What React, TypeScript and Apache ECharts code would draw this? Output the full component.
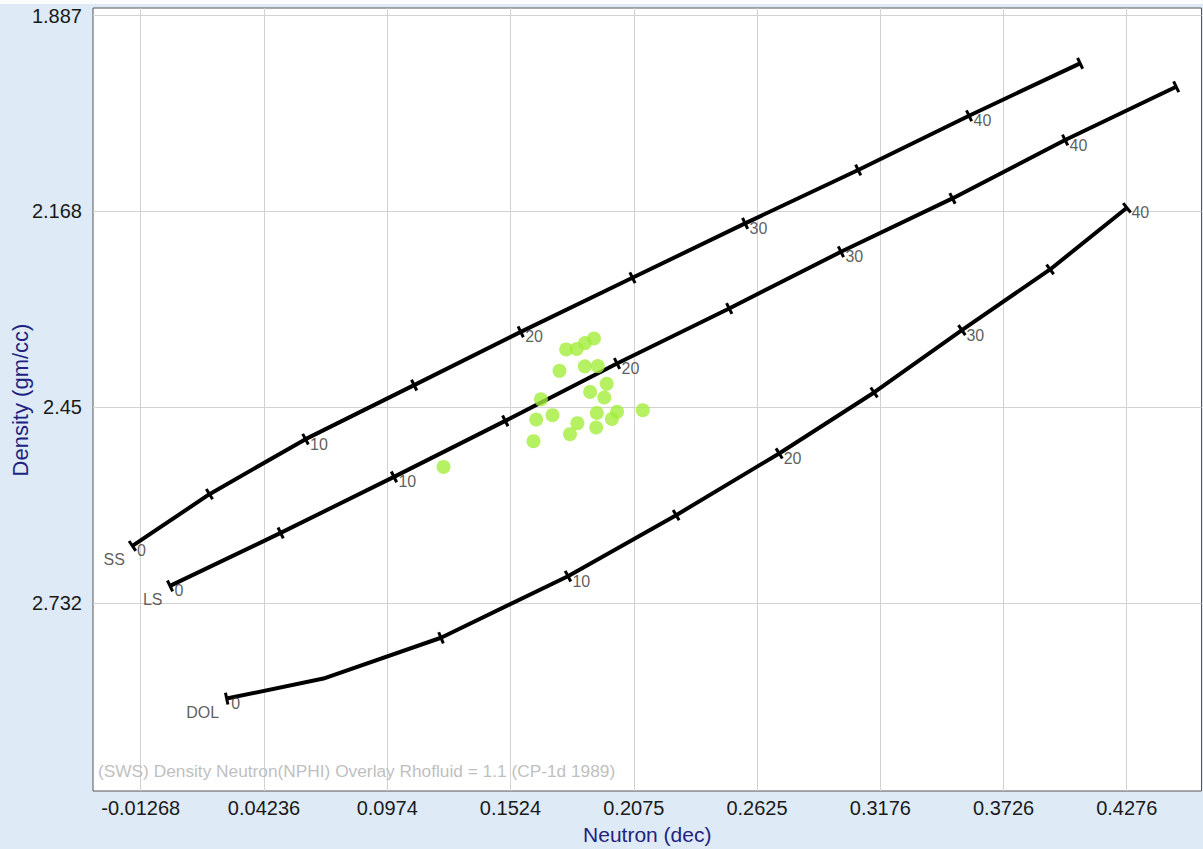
import React, { useEffect, useRef } from 'react';
import * as echarts from 'echarts';

// Axis ticks
const xTicks = [-0.01268, 0.04236, 0.0974, 0.1524, 0.2075, 0.2625, 0.3176, 0.3726, 0.4276];
const xTickLabels = ['-0.01268', '0.04236', '0.0974', '0.1524', '0.2075', '0.2625', '0.3176', '0.3726', '0.4276'];
const yTicks = [1.887, 2.168, 2.45, 2.732];
const yTickLabels = ['1.887', '2.168', '2.45', '2.732'];

// Sandstone line (porosity p.u., NPHI, RHOB)
const ssPhi = [0, 5, 10, 15, 20, 25, 30, 35, 40, 45];
const ssNphi = [-0.0164, 0.018, 0.0609, 0.1094, 0.157, 0.2069, 0.2572, 0.3077, 0.3572, 0.4068];
const ssRhob = [2.65, 2.5755, 2.4963, 2.4186, 2.3419, 2.2641, 2.1858, 2.1091, 2.0309, 1.9555];

// Limestone line
const lsPhi = [0, 5, 10, 15, 20, 25, 30, 35, 40, 45];
const lsNphi = [0.0004, 0.0498, 0.1004, 0.1501, 0.2, 0.2501, 0.3, 0.3498, 0.4001, 0.4497];
const lsRhob = [2.7075, 2.6312, 2.5506, 2.47, 2.3874, 2.3082, 2.2267, 2.1499, 2.0659, 1.9892];

// Dolomite line
const dolPhi = [0, 2, 5, 10, 15, 20, 25, 30, 35, 40];
const dolNphi = [0.0257, 0.0689, 0.1214, 0.1781, 0.2264, 0.2724, 0.3148, 0.354, 0.3934, 0.4277];
const dolRhob = [2.8696, 2.8408, 2.7821, 2.6935, 2.6057, 2.5169, 2.4291, 2.3394, 2.2521, 2.1634];

// Sample points
const sampleNphi = [0.1225, 0.1627, 0.1639, 0.1712, 0.166, 0.1743, 0.1773, 0.182, 0.1857, 0.1897, 0.1856,
  0.1914, 0.188, 0.1954, 0.1943, 0.191, 0.2, 0.1977, 0.1907, 0.1823, 0.179, 0.2115];
const sampleRhob = [2.5362, 2.4992, 2.468, 2.4618, 2.439, 2.398, 2.3672, 2.3665, 2.3581, 2.3514, 2.3915,
  2.3912, 2.4283, 2.4167, 2.4363, 2.4585, 2.457, 2.4673, 2.4795, 2.4733, 2.4891, 2.4546];

const labeledPhi = [0, 10, 20, 30, 40];

const curves = [
  { name: 'SS', phi: ssPhi, nphi: ssNphi, rhob: ssRhob },
  { name: 'LS', phi: lsPhi, nphi: lsNphi, rhob: lsRhob },
  { name: 'DOL', phi: dolPhi, nphi: dolNphi, rhob: dolRhob },
];

const FONT = 'Liberation Sans, Arial, sans-serif';

function tickData(nphi: number[], rhob: number[], phi: number[]) {
  const out: number[][] = [];
  const n = phi.length;
  for (let i = 0; i < n; i++) {
    if (phi[i] % 5 !== 0) continue;
    const a = Math.max(0, i - 1);
    const b = Math.min(n - 1, i + 1);
    out.push([nphi[i], rhob[i], nphi[a], rhob[a], nphi[b], rhob[b]]);
  }
  return out;
}

function renderTick(_params: any, api: any) {
  const p = api.coord([api.value(0), api.value(1)]);
  const a = api.coord([api.value(2), api.value(3)]);
  const b = api.coord([api.value(4), api.value(5)]);
  let dx = b[0] - a[0];
  let dy = b[1] - a[1];
  const len = Math.hypot(dx, dy) || 1;
  dx /= len;
  dy /= len;
  const L = 6;
  return {
    type: 'line',
    shape: { x1: p[0] - dy * L, y1: p[1] + dx * L, x2: p[0] + dy * L, y2: p[1] - dx * L },
    style: { stroke: '#000', lineWidth: 3 },
  };
}

export default function App() {
  const ref = useRef<HTMLDivElement>(null);

  useEffect(() => {
    if (!ref.current) return;
    const chart = echarts.init(ref.current, undefined, { renderer: 'svg' });

    const series: any[] = [];
    curves.forEach((c) => {
      series.push({
        type: 'line',
        name: c.name,
        data: c.nphi.map((x, i) => [x, c.rhob[i]]),
        showSymbol: false,
        symbol: 'none',
        lineStyle: { color: '#000', width: 4 },
        z: 2,
        silent: true,
      });
      series.push({
        type: 'custom',
        name: c.name + '-ticks',
        dimensions: ['x', 'y', 'ax', 'ay', 'bx', 'by'],
        encode: { x: 0, y: 1 },
        data: tickData(c.nphi, c.rhob, c.phi),
        renderItem: renderTick,
        z: 3,
        silent: true,
      });
      series.push({
        type: 'scatter',
        name: c.name + '-labels',
        symbolSize: 1,
        itemStyle: { color: 'rgba(0,0,0,0)' },
        data: c.phi
          .map((p, i) => ({ name: String(p), value: [c.nphi[i], c.rhob[i]], p }))
          .filter((d) => labeledPhi.includes(d.p))
          .map((d) => ({ name: d.name, value: d.value })),
        label: {
          show: true,
          formatter: '{b}',
          position: 'right',
          distance: 4,
          offset: [0, 5],
          color: '#333',
          fontSize: 16,
          fontFamily: FONT,
        },
        z: 4,
        silent: true,
      });
      series.push({
        type: 'scatter',
        name: c.name + '-name',
        symbolSize: 1,
        itemStyle: { color: 'rgba(0,0,0,0)' },
        data: [{ name: c.name, value: [c.nphi[0], c.rhob[0]] }],
        label: {
          show: true,
          formatter: '{b}',
          position: 'left',
          distance: 7,
          offset: [0, 14],
          color: '#333',
          fontSize: 16,
          fontFamily: FONT,
        },
        z: 4,
        silent: true,
      });
    });

    series.push({
      type: 'scatter',
      name: 'Samples',
      data: sampleNphi.map((x, i) => [x, sampleRhob[i]]),
      symbol: 'circle',
      symbolSize: 14,
      itemStyle: { color: '#A2EE3B' },
      z: 5,
      silent: true,
    });

    const labelFor = (vals: number[], labels: string[]) => (v: number) => {
      let best = 0;
      for (let i = 1; i < vals.length; i++) {
        if (Math.abs(vals[i] - v) < Math.abs(vals[best] - v)) best = i;
      }
      return labels[best];
    };

    chart.setOption({
      animation: false,
      backgroundColor: '#DEEBF7',
      textStyle: { fontFamily: FONT },
      grid: {
        left: 93,
        top: 8,
        right: 1.5,
        bottom: 58,
        show: true,
        backgroundColor: '#fff',
        borderColor: '#555',
        borderWidth: 1,
        containLabel: false,
        outerBoundsMode: 'none',
      },
      xAxis: {
        type: 'value',
        min: -0.034,
        max: 0.461,
        name: 'Neutron (dec)',
        nameLocation: 'middle',
        nameGap: 33,
        nameTextStyle: { color: '#22237F', fontSize: 21, fontFamily: FONT },
        axisLine: { show: false },
        axisTick: { show: false, customValues: xTicks },
        axisLabel: {
          customValues: xTicks,
          formatter: labelFor(xTicks, xTickLabels),
          color: '#1a1a1a',
          fontSize: 20,
          margin: 7,
          fontFamily: FONT,
        },
        splitLine: { show: true, lineStyle: { color: '#d2d2d2', width: 1 } },
      },
      yAxis: {
        type: 'value',
        inverse: true,
        min: 1.8759,
        max: 3.0026,
        axisLine: { show: false },
        axisTick: { show: false, customValues: yTicks },
        axisLabel: {
          customValues: yTicks,
          formatter: labelFor(yTicks, yTickLabels),
          color: '#1a1a1a',
          fontSize: 20,
          margin: 11,
          fontFamily: FONT,
        },
        splitLine: { show: true, lineStyle: { color: '#d2d2d2', width: 1 } },
      },
      graphic: [
        {
          type: 'rect',
          left: 0,
          top: 0,
          shape: { width: 1203, height: 4 },
          style: { fill: '#fafcfe' },
          silent: true,
        },
        {
          type: 'text',
          x: 20,
          y: 400,
          rotation: Math.PI / 2,
          style: {
            text: 'Density (gm/cc)',
            fill: '#22237F',
            font: '22px ' + FONT,
            textAlign: 'center',
            textVerticalAlign: 'middle',
          },
          silent: true,
        },
        {
          type: 'text',
          x: 98,
          y: 771,
          style: {
            text: '(SWS) Density Neutron(NPHI) Overlay Rhofluid = 1.1 (CP-1d 1989)',
            fill: '#bfbfbf',
            font: '17.3px ' + FONT,
            textVerticalAlign: 'middle',
          },
          z: 10,
          silent: true,
        },
      ],
      series,
    });

    return () => chart.dispose();
  }, []);

  return (
    <div
      ref={ref}
      style={{ position: 'fixed', left: 0, top: 0, width: 1203, height: 849 }}
    />
  );
}
